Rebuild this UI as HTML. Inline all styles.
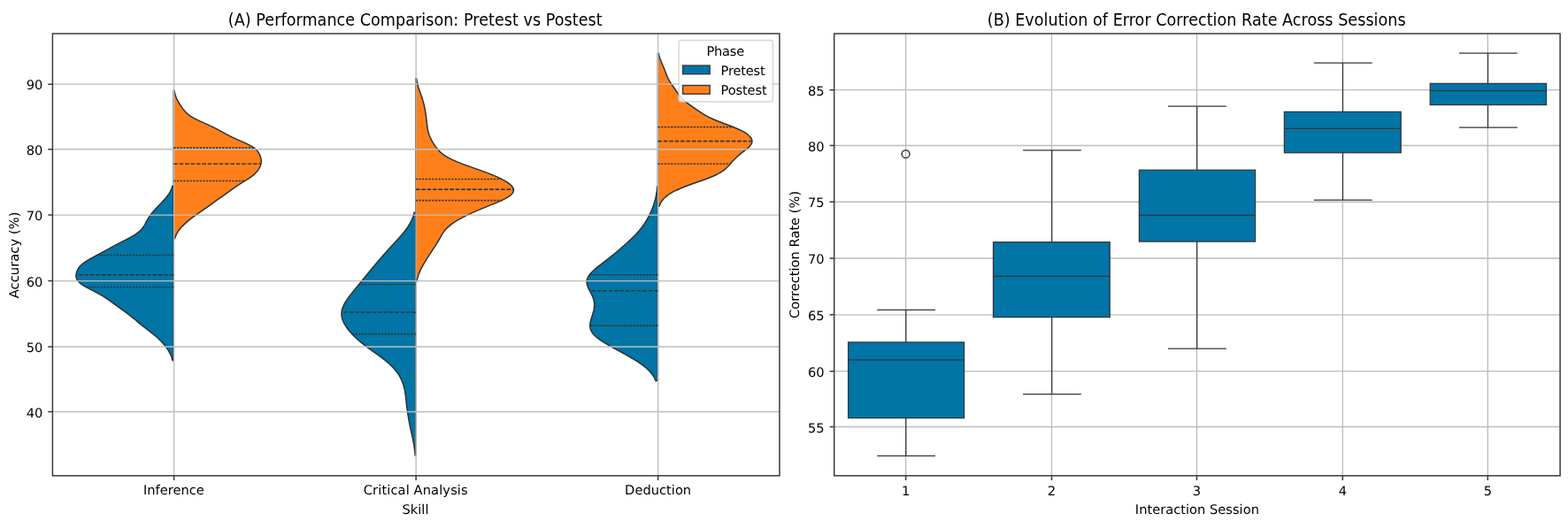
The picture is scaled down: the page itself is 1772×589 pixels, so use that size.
<!DOCTYPE html>
<html lang="en">
<head>
<meta charset="utf-8">
<title>Performance Comparison and Error Correction Rate</title>
<style>
html,body{margin:0;padding:0;background:#fff;}
body{width:1772px;height:589px;overflow:hidden;font-family:"DejaVu Sans","Liberation Sans",sans-serif;}
svg{display:block;}
svg text{font-family:"DejaVu Sans","Liberation Sans",sans-serif;}
</style>
</head>
<body>
<svg xmlns="http://www.w3.org/2000/svg" width="1772" height="589" viewBox="0 0 1772 589" font-family='DejaVu Sans, Liberation Sans, sans-serif'>
<rect width="1772" height="589" fill="#fff"/>
<g id="left">
<clipPath id="clipL"><rect x="59.4" y="38" width="821.55" height="499.8"/></clipPath>
<g clip-path="url(#clipL)">
<path d="M196.3 210.3 L194.75 210.3 L194.47 211.3 L194.15 212.3 L193.79 213.3 L193.39 214.3 L192.94 215.3 L192.45 216.3 L191.92 217.3 L191.34 218.3 L190.71 219.3 L190.04 220.3 L189.33 221.3 L188.58 222.3 L187.79 223.3 L186.97 224.3 L186.11 225.3 L185.23 226.3 L184.33 227.3 L183.4 228.3 L182.46 229.3 L181.51 230.3 L180.55 231.3 L179.59 232.3 L178.63 233.3 L177.67 234.3 L176.73 235.3 L175.79 236.3 L174.87 237.3 L173.97 238.3 L173.09 239.3 L172.24 240.3 L171.42 241.3 L170.63 242.3 L169.87 243.3 L169.15 244.3 L168.47 245.3 L167.82 246.3 L167.21 247.3 L166.63 248.3 L166.07 249.3 L165.54 250.3 L165.02 251.3 L164.5 252.3 L163.97 253.3 L163.41 254.3 L162.82 255.3 L162.18 256.3 L161.48 257.3 L160.69 258.3 L159.82 259.3 L158.84 260.3 L157.76 261.3 L156.57 262.3 L155.27 263.3 L153.85 264.3 L152.33 265.3 L150.71 266.3 L149 267.3 L147.21 268.3 L145.37 269.3 L143.48 270.3 L141.56 271.3 L139.62 272.3 L137.68 273.3 L135.74 274.3 L133.82 275.3 L131.91 276.3 L130.03 277.3 L128.16 278.3 L126.32 279.3 L124.48 280.3 L122.65 281.3 L120.83 282.3 L118.99 283.3 L117.15 284.3 L115.3 285.3 L113.43 286.3 L111.55 287.3 L109.67 288.3 L107.8 289.3 L105.94 290.3 L104.1 291.3 L102.31 292.3 L100.58 293.3 L98.93 294.3 L97.35 295.3 L95.88 296.3 L94.52 297.3 L93.26 298.3 L92.13 299.3 L91.1 300.3 L90.19 301.3 L89.39 302.3 L88.69 303.3 L88.07 304.3 L87.55 305.3 L87.1 306.3 L86.72 307.3 L86.41 308.3 L86.18 309.3 L86.02 310.3 L85.94 311.3 L85.96 312.3 L86.08 313.3 L86.31 314.3 L86.68 315.3 L87.19 316.3 L87.86 317.3 L88.68 318.3 L89.67 319.3 L90.82 320.3 L92.13 321.3 L93.59 322.3 L95.19 323.3 L96.9 324.3 L98.71 325.3 L100.58 326.3 L102.51 327.3 L104.45 328.3 L106.4 329.3 L108.32 330.3 L110.21 331.3 L112.04 332.3 L113.82 333.3 L115.53 334.3 L117.17 335.3 L118.75 336.3 L120.27 337.3 L121.74 338.3 L123.17 339.3 L124.57 340.3 L125.96 341.3 L127.33 342.3 L128.71 343.3 L130.08 344.3 L131.47 345.3 L132.86 346.3 L134.26 347.3 L135.66 348.3 L137.07 349.3 L138.47 350.3 L139.85 351.3 L141.22 352.3 L142.57 353.3 L143.9 354.3 L145.2 355.3 L146.48 356.3 L147.73 357.3 L148.96 358.3 L150.17 359.3 L151.37 360.3 L152.56 361.3 L153.75 362.3 L154.95 363.3 L156.16 364.3 L157.38 365.3 L158.61 366.3 L159.86 367.3 L161.13 368.3 L162.41 369.3 L163.7 370.3 L164.99 371.3 L166.29 372.3 L167.59 373.3 L168.88 374.3 L170.15 375.3 L171.4 376.3 L172.64 377.3 L173.84 378.3 L175.02 379.3 L176.16 380.3 L177.28 381.3 L178.36 382.3 L179.41 383.3 L180.43 384.3 L181.41 385.3 L182.37 386.3 L183.3 387.3 L184.2 388.3 L185.07 389.3 L185.91 390.3 L186.72 391.3 L187.5 392.3 L188.25 393.3 L188.97 394.3 L189.65 395.3 L190.3 396.3 L190.91 397.3 L191.48 398.3 L192.02 399.3 L192.52 400.3 L192.97 401.3 L193.39 402.3 L193.78 403.3 L194.12 404.3 L194.43 405.3 L194.7 406.3 L194.95 407.3 L194.97 407.4 L196.3 407.4 Z" fill="#0075a6" stroke="#303030" stroke-width="1.5" stroke-linejoin="round"/>
<path d="M196.3 102.1 L196.95 102.1 L197.11 103.1 L197.3 104.1 L197.51 105.1 L197.77 106.1 L198.05 107.1 L198.38 108.1 L198.74 109.1 L199.14 110.1 L199.57 111.1 L200.04 112.1 L200.55 113.1 L201.08 114.1 L201.63 115.1 L202.21 116.1 L202.81 117.1 L203.42 118.1 L204.05 119.1 L204.69 120.1 L205.36 121.1 L206.05 122.1 L206.77 123.1 L207.53 124.1 L208.35 125.1 L209.23 126.1 L210.2 127.1 L211.26 128.1 L212.43 129.1 L213.72 130.1 L215.15 131.1 L216.71 132.1 L218.4 133.1 L220.23 134.1 L222.18 135.1 L224.23 136.1 L226.37 137.1 L228.57 138.1 L230.8 139.1 L233.05 140.1 L235.28 141.1 L237.47 142.1 L239.61 143.1 L241.68 144.1 L243.67 145.1 L245.59 146.1 L247.45 147.1 L249.27 148.1 L251.05 149.1 L252.83 150.1 L254.64 151.1 L256.48 152.1 L258.38 153.1 L260.36 154.1 L262.43 155.1 L264.57 156.1 L266.78 157.1 L269.04 158.1 L271.33 159.1 L273.62 160.1 L275.86 161.1 L278.04 162.1 L280.12 163.1 L282.07 164.1 L283.87 165.1 L285.5 166.1 L286.96 167.1 L288.25 168.1 L289.37 169.1 L290.34 170.1 L291.18 171.1 L291.9 172.1 L292.52 173.1 L293.06 174.1 L293.53 175.1 L293.94 176.1 L294.3 177.1 L294.6 178.1 L294.85 179.1 L295.04 180.1 L295.16 181.1 L295.22 182.1 L295.2 183.1 L295.11 184.1 L294.94 185.1 L294.7 186.1 L294.38 187.1 L293.99 188.1 L293.53 189.1 L293.01 190.1 L292.42 191.1 L291.76 192.1 L291.03 193.1 L290.23 194.1 L289.34 195.1 L288.36 196.1 L287.29 197.1 L286.12 198.1 L284.86 199.1 L283.5 200.1 L282.06 201.1 L280.56 202.1 L278.99 203.1 L277.39 204.1 L275.76 205.1 L274.14 206.1 L272.52 207.1 L270.94 208.1 L269.38 209.1 L267.87 210.1 L266.4 211.1 L264.96 212.1 L263.55 213.1 L262.17 214.1 L260.79 215.1 L259.42 216.1 L258.04 217.1 L256.66 218.1 L255.26 219.1 L253.85 220.1 L252.42 221.1 L250.99 222.1 L249.55 223.1 L248.12 224.1 L246.69 225.1 L245.28 226.1 L243.87 227.1 L242.48 228.1 L241.11 229.1 L239.74 230.1 L238.37 231.1 L237 232.1 L235.62 233.1 L234.23 234.1 L232.82 235.1 L231.4 236.1 L229.96 237.1 L228.51 238.1 L227.05 239.1 L225.59 240.1 L224.12 241.1 L222.67 242.1 L221.24 243.1 L219.83 244.1 L218.45 245.1 L217.11 246.1 L215.8 247.1 L214.52 248.1 L213.29 249.1 L212.1 250.1 L210.95 251.1 L209.83 252.1 L208.76 253.1 L207.72 254.1 L206.72 255.1 L205.76 256.1 L204.85 257.1 L203.97 258.1 L203.15 259.1 L202.37 260.1 L201.64 261.1 L200.97 262.1 L200.35 263.1 L199.79 264.1 L199.28 265.1 L198.82 266.1 L198.41 267.1 L198.06 268.1 L197.75 269.1 L197.59 269.7 L196.3 269.7 Z" fill="#ff801a" stroke="#303030" stroke-width="1.5" stroke-linejoin="round"/>
<path d="M469.85 240.2 L467.99 240.2 L467.76 241.2 L467.5 242.2 L467.22 243.2 L466.92 244.2 L466.59 245.2 L466.23 246.2 L465.85 247.2 L465.43 248.2 L464.99 249.2 L464.52 250.2 L464.02 251.2 L463.49 252.2 L462.94 253.2 L462.35 254.2 L461.73 255.2 L461.09 256.2 L460.42 257.2 L459.72 258.2 L459 259.2 L458.25 260.2 L457.48 261.2 L456.69 262.2 L455.88 263.2 L455.05 264.2 L454.21 265.2 L453.35 266.2 L452.48 267.2 L451.59 268.2 L450.7 269.2 L449.8 270.2 L448.89 271.2 L447.97 272.2 L447.06 273.2 L446.14 274.2 L445.22 275.2 L444.3 276.2 L443.37 277.2 L442.45 278.2 L441.54 279.2 L440.62 280.2 L439.71 281.2 L438.8 282.2 L437.9 283.2 L437 284.2 L436.1 285.2 L435.21 286.2 L434.32 287.2 L433.44 288.2 L432.56 289.2 L431.68 290.2 L430.81 291.2 L429.95 292.2 L429.08 293.2 L428.22 294.2 L427.37 295.2 L426.51 296.2 L425.66 297.2 L424.82 298.2 L423.97 299.2 L423.13 300.2 L422.29 301.2 L421.46 302.2 L420.63 303.2 L419.8 304.2 L418.97 305.2 L418.14 306.2 L417.32 307.2 L416.5 308.2 L415.68 309.2 L414.86 310.2 L414.04 311.2 L413.23 312.2 L412.41 313.2 L411.6 314.2 L410.79 315.2 L409.97 316.2 L409.16 317.2 L408.35 318.2 L407.54 319.2 L406.72 320.2 L405.91 321.2 L405.09 322.2 L404.28 323.2 L403.46 324.2 L402.65 325.2 L401.83 326.2 L401.02 327.2 L400.21 328.2 L399.4 329.2 L398.59 330.2 L397.8 331.2 L397.01 332.2 L396.23 333.2 L395.46 334.2 L394.7 335.2 L393.96 336.2 L393.23 337.2 L392.53 338.2 L391.85 339.2 L391.19 340.2 L390.57 341.2 L389.97 342.2 L389.4 343.2 L388.87 344.2 L388.38 345.2 L387.93 346.2 L387.52 347.2 L387.15 348.2 L386.83 349.2 L386.56 350.2 L386.34 351.2 L386.17 352.2 L386.05 353.2 L385.98 354.2 L385.97 355.2 L386.01 356.2 L386.11 357.2 L386.26 358.2 L386.46 359.2 L386.72 360.2 L387.02 361.2 L387.38 362.2 L387.78 363.2 L388.23 364.2 L388.73 365.2 L389.27 366.2 L389.85 367.2 L390.47 368.2 L391.12 369.2 L391.81 370.2 L392.54 371.2 L393.3 372.2 L394.08 373.2 L394.9 374.2 L395.75 375.2 L396.62 376.2 L397.52 377.2 L398.45 378.2 L399.41 379.2 L400.4 380.2 L401.41 381.2 L402.45 382.2 L403.52 383.2 L404.62 384.2 L405.75 385.2 L406.91 386.2 L408.09 387.2 L409.31 388.2 L410.55 389.2 L411.83 390.2 L413.12 391.2 L414.45 392.2 L415.79 393.2 L417.15 394.2 L418.53 395.2 L419.92 396.2 L421.33 397.2 L422.73 398.2 L424.14 399.2 L425.55 400.2 L426.95 401.2 L428.33 402.2 L429.71 403.2 L431.06 404.2 L432.39 405.2 L433.7 406.2 L434.97 407.2 L436.22 408.2 L437.43 409.2 L438.6 410.2 L439.73 411.2 L440.83 412.2 L441.88 413.2 L442.9 414.2 L443.87 415.2 L444.8 416.2 L445.7 417.2 L446.55 418.2 L447.36 419.2 L448.14 420.2 L448.88 421.2 L449.58 422.2 L450.24 423.2 L450.88 424.2 L451.48 425.2 L452.05 426.2 L452.58 427.2 L453.09 428.2 L453.57 429.2 L454.02 430.2 L454.44 431.2 L454.84 432.2 L455.21 433.2 L455.56 434.2 L455.88 435.2 L456.18 436.2 L456.46 437.2 L456.71 438.2 L456.95 439.2 L457.17 440.2 L457.37 441.2 L457.56 442.2 L457.73 443.2 L457.89 444.2 L458.04 445.2 L458.17 446.2 L458.3 447.2 L458.42 448.2 L458.54 449.2 L458.65 450.2 L458.76 451.2 L458.87 452.2 L458.98 453.2 L459.08 454.2 L459.19 455.2 L459.3 456.2 L459.41 457.2 L459.53 458.2 L459.65 459.2 L459.77 460.2 L459.9 461.2 L460.03 462.2 L460.17 463.2 L460.31 464.2 L460.45 465.2 L460.59 466.2 L460.75 467.2 L460.9 468.2 L461.06 469.2 L461.22 470.2 L461.38 471.2 L461.55 472.2 L461.73 473.2 L461.9 474.2 L462.08 475.2 L462.26 476.2 L462.45 477.2 L462.64 478.2 L462.83 479.2 L463.03 480.2 L463.23 481.2 L463.43 482.2 L463.64 483.2 L463.85 484.2 L464.06 485.2 L464.27 486.2 L464.49 487.2 L464.71 488.2 L464.93 489.2 L465.15 490.2 L465.37 491.2 L465.59 492.2 L465.81 493.2 L466.02 494.2 L466.24 495.2 L466.45 496.2 L466.66 497.2 L466.86 498.2 L467.05 499.2 L467.25 500.2 L467.43 501.2 L467.61 502.2 L467.78 503.2 L467.94 504.2 L468.1 505.2 L468.25 506.2 L468.39 507.2 L468.52 508.2 L468.64 509.2 L468.76 510.2 L468.87 511.2 L468.97 512.2 L469.06 513.2 L469.14 514.2 L469.21 515 L469.85 515 Z" fill="#0075a6" stroke="#303030" stroke-width="1.5" stroke-linejoin="round"/>
<path d="M469.85 88.85 L470.76 88.85 L470.9 89.85 L471.06 90.85 L471.23 91.85 L471.43 92.85 L471.63 93.85 L471.86 94.85 L472.1 95.85 L472.37 96.85 L472.64 97.85 L472.93 98.85 L473.24 99.85 L473.56 100.85 L473.89 101.85 L474.23 102.85 L474.58 103.85 L474.93 104.85 L475.28 105.85 L475.64 106.85 L475.99 107.85 L476.34 108.85 L476.68 109.85 L477.02 110.85 L477.34 111.85 L477.65 112.85 L477.96 113.85 L478.25 114.85 L478.52 115.85 L478.79 116.85 L479.04 117.85 L479.28 118.85 L479.5 119.85 L479.72 120.85 L479.92 121.85 L480.12 122.85 L480.3 123.85 L480.48 124.85 L480.65 125.85 L480.82 126.85 L480.98 127.85 L481.13 128.85 L481.27 129.85 L481.41 130.85 L481.55 131.85 L481.68 132.85 L481.8 133.85 L481.92 134.85 L482.03 135.85 L482.14 136.85 L482.25 137.85 L482.36 138.85 L482.47 139.85 L482.58 140.85 L482.7 141.85 L482.83 142.85 L482.96 143.85 L483.12 144.85 L483.29 145.85 L483.48 146.85 L483.7 147.85 L483.94 148.85 L484.21 149.85 L484.51 150.85 L484.84 151.85 L485.2 152.85 L485.59 153.85 L486.01 154.85 L486.46 155.85 L486.94 156.85 L487.44 157.85 L487.97 158.85 L488.52 159.85 L489.09 160.85 L489.69 161.85 L490.31 162.85 L490.95 163.85 L491.62 164.85 L492.33 165.85 L493.07 166.85 L493.85 167.85 L494.68 168.85 L495.58 169.85 L496.54 170.85 L497.58 171.85 L498.72 172.85 L499.95 173.85 L501.28 174.85 L502.74 175.85 L504.31 176.85 L506.02 177.85 L507.85 178.85 L509.82 179.85 L511.92 180.85 L514.15 181.85 L516.49 182.85 L518.95 183.85 L521.51 184.85 L524.15 185.85 L526.87 186.85 L529.64 187.85 L532.46 188.85 L535.29 189.85 L538.13 190.85 L540.96 191.85 L543.75 192.85 L546.51 193.85 L549.21 194.85 L551.84 195.85 L554.4 196.85 L556.87 197.85 L559.24 198.85 L561.52 199.85 L563.7 200.85 L565.77 201.85 L567.72 202.85 L569.57 203.85 L571.29 204.85 L572.89 205.85 L574.36 206.85 L575.69 207.85 L576.88 208.85 L577.91 209.85 L578.79 210.85 L579.49 211.85 L580 212.85 L580.33 213.85 L580.46 214.85 L580.39 215.85 L580.1 216.85 L579.6 217.85 L578.88 218.85 L577.95 219.85 L576.82 220.85 L575.49 221.85 L573.97 222.85 L572.27 223.85 L570.41 224.85 L568.42 225.85 L566.29 226.85 L564.07 227.85 L561.75 228.85 L559.37 229.85 L556.94 230.85 L554.48 231.85 L552 232.85 L549.53 233.85 L547.06 234.85 L544.61 235.85 L542.2 236.85 L539.82 237.85 L537.49 238.85 L535.21 239.85 L532.97 240.85 L530.79 241.85 L528.67 242.85 L526.61 243.85 L524.6 244.85 L522.66 245.85 L520.79 246.85 L518.98 247.85 L517.25 248.85 L515.58 249.85 L514 250.85 L512.49 251.85 L511.06 252.85 L509.71 253.85 L508.45 254.85 L507.26 255.85 L506.16 256.85 L505.13 257.85 L504.18 258.85 L503.3 259.85 L502.48 260.85 L501.72 261.85 L501 262.85 L500.33 263.85 L499.7 264.85 L499.09 265.85 L498.51 266.85 L497.93 267.85 L497.37 268.85 L496.8 269.85 L496.23 270.85 L495.66 271.85 L495.07 272.85 L494.48 273.85 L493.87 274.85 L493.25 275.85 L492.62 276.85 L491.98 277.85 L491.33 278.85 L490.67 279.85 L490.01 280.85 L489.34 281.85 L488.67 282.85 L488.01 283.85 L487.34 284.85 L486.68 285.85 L486.02 286.85 L485.37 287.85 L484.72 288.85 L484.08 289.85 L483.44 290.85 L482.81 291.85 L482.18 292.85 L481.56 293.85 L480.95 294.85 L480.34 295.85 L479.75 296.85 L479.16 297.85 L478.57 298.85 L478 299.85 L477.45 300.85 L476.9 301.85 L476.38 302.85 L475.86 303.85 L475.37 304.85 L474.9 305.85 L474.45 306.85 L474.02 307.85 L473.61 308.85 L473.23 309.85 L472.87 310.85 L472.54 311.85 L472.24 312.85 L471.95 313.85 L471.7 314.85 L471.46 315.85 L471.25 316.85 L471.06 317.85 L471.02 318.1 L469.85 318.1 Z" fill="#ff801a" stroke="#303030" stroke-width="1.5" stroke-linejoin="round"/>
<path d="M743.45 210.7 L742.88 210.7 L742.79 211.7 L742.7 212.7 L742.6 213.7 L742.48 214.7 L742.36 215.7 L742.22 216.7 L742.07 217.7 L741.91 218.7 L741.74 219.7 L741.55 220.7 L741.35 221.7 L741.14 222.7 L740.91 223.7 L740.67 224.7 L740.42 225.7 L740.15 226.7 L739.87 227.7 L739.58 228.7 L739.27 229.7 L738.95 230.7 L738.62 231.7 L738.27 232.7 L737.91 233.7 L737.54 234.7 L737.16 235.7 L736.76 236.7 L736.35 237.7 L735.93 238.7 L735.5 239.7 L735.05 240.7 L734.58 241.7 L734.11 242.7 L733.61 243.7 L733.1 244.7 L732.58 245.7 L732.04 246.7 L731.48 247.7 L730.9 248.7 L730.31 249.7 L729.7 250.7 L729.06 251.7 L728.41 252.7 L727.73 253.7 L727.03 254.7 L726.31 255.7 L725.57 256.7 L724.8 257.7 L724.01 258.7 L723.19 259.7 L722.35 260.7 L721.49 261.7 L720.59 262.7 L719.68 263.7 L718.74 264.7 L717.78 265.7 L716.79 266.7 L715.79 267.7 L714.76 268.7 L713.72 269.7 L712.66 270.7 L711.59 271.7 L710.5 272.7 L709.41 273.7 L708.3 274.7 L707.19 275.7 L706.07 276.7 L704.95 277.7 L703.82 278.7 L702.69 279.7 L701.55 280.7 L700.41 281.7 L699.26 282.7 L698.11 283.7 L696.95 284.7 L695.79 285.7 L694.61 286.7 L693.42 287.7 L692.21 288.7 L691 289.7 L689.76 290.7 L688.51 291.7 L687.25 292.7 L685.97 293.7 L684.68 294.7 L683.37 295.7 L682.06 296.7 L680.75 297.7 L679.44 298.7 L678.13 299.7 L676.84 300.7 L675.56 301.7 L674.31 302.7 L673.1 303.7 L671.92 304.7 L670.8 305.7 L669.73 306.7 L668.72 307.7 L667.78 308.7 L666.91 309.7 L666.13 310.7 L665.43 311.7 L664.83 312.7 L664.31 313.7 L663.89 314.7 L663.56 315.7 L663.32 316.7 L663.18 317.7 L663.13 318.7 L663.17 319.7 L663.29 320.7 L663.48 321.7 L663.75 322.7 L664.08 323.7 L664.46 324.7 L664.89 325.7 L665.36 326.7 L665.86 327.7 L666.38 328.7 L666.91 329.7 L667.44 330.7 L667.97 331.7 L668.48 332.7 L668.97 333.7 L669.43 334.7 L669.86 335.7 L670.24 336.7 L670.59 337.7 L670.89 338.7 L671.14 339.7 L671.35 340.7 L671.5 341.7 L671.61 342.7 L671.67 343.7 L671.68 344.7 L671.65 345.7 L671.58 346.7 L671.48 347.7 L671.33 348.7 L671.16 349.7 L670.96 350.7 L670.73 351.7 L670.47 352.7 L670.2 353.7 L669.92 354.7 L669.62 355.7 L669.31 356.7 L668.99 357.7 L668.68 358.7 L668.37 359.7 L668.07 360.7 L667.78 361.7 L667.52 362.7 L667.28 363.7 L667.08 364.7 L666.92 365.7 L666.81 366.7 L666.76 367.7 L666.76 368.7 L666.84 369.7 L666.99 370.7 L667.23 371.7 L667.55 372.7 L667.96 373.7 L668.47 374.7 L669.07 375.7 L669.77 376.7 L670.57 377.7 L671.46 378.7 L672.46 379.7 L673.54 380.7 L674.71 381.7 L675.97 382.7 L677.31 383.7 L678.72 384.7 L680.2 385.7 L681.74 386.7 L683.34 387.7 L684.98 388.7 L686.67 389.7 L688.4 390.7 L690.15 391.7 L691.93 392.7 L693.73 393.7 L695.55 394.7 L697.37 395.7 L699.2 396.7 L701.03 397.7 L702.86 398.7 L704.68 399.7 L706.48 400.7 L708.28 401.7 L710.05 402.7 L711.8 403.7 L713.53 404.7 L715.22 405.7 L716.88 406.7 L718.51 407.7 L720.1 408.7 L721.64 409.7 L723.14 410.7 L724.58 411.7 L725.98 412.7 L727.32 413.7 L728.6 414.7 L729.83 415.7 L730.99 416.7 L732.09 417.7 L733.13 418.7 L734.1 419.7 L735.02 420.7 L735.87 421.7 L736.66 422.7 L737.39 423.7 L738.06 424.7 L738.68 425.7 L739.24 426.7 L739.75 427.7 L740.21 428.7 L740.62 429.7 L740.89 430.4 L743.45 430.4 Z" fill="#0075a6" stroke="#303030" stroke-width="1.5" stroke-linejoin="round"/>
<path d="M743.45 60.2 L744.37 60.2 L744.56 61.2 L744.77 62.2 L745.01 63.2 L745.28 64.2 L745.57 65.2 L745.9 66.2 L746.24 67.2 L746.62 68.2 L747.01 69.2 L747.42 70.2 L747.85 71.2 L748.28 72.2 L748.72 73.2 L749.16 74.2 L749.59 75.2 L750.02 76.2 L750.44 77.2 L750.84 78.2 L751.24 79.2 L751.62 80.2 L751.99 81.2 L752.36 82.2 L752.73 83.2 L753.1 84.2 L753.49 85.2 L753.89 86.2 L754.31 87.2 L754.77 88.2 L755.25 89.2 L755.77 90.2 L756.33 91.2 L756.92 92.2 L757.55 93.2 L758.2 94.2 L758.88 95.2 L759.58 96.2 L760.29 97.2 L761.01 98.2 L761.72 99.2 L762.43 100.2 L763.12 101.2 L763.81 102.2 L764.5 103.2 L765.18 104.2 L765.87 105.2 L766.57 106.2 L767.29 107.2 L768.05 108.2 L768.85 109.2 L769.71 110.2 L770.63 111.2 L771.62 112.2 L772.68 113.2 L773.81 114.2 L775.01 115.2 L776.28 116.2 L777.59 117.2 L778.95 118.2 L780.34 119.2 L781.75 120.2 L783.18 121.2 L784.61 122.2 L786.06 123.2 L787.5 124.2 L788.97 125.2 L790.45 126.2 L791.97 127.2 L793.53 128.2 L795.17 129.2 L796.88 130.2 L798.7 131.2 L800.62 132.2 L802.67 133.2 L804.83 134.2 L807.12 135.2 L809.52 136.2 L812.01 137.2 L814.59 138.2 L817.21 139.2 L819.87 140.2 L822.52 141.2 L825.14 142.2 L827.7 143.2 L830.17 144.2 L832.54 145.2 L834.79 146.2 L836.89 147.2 L838.85 148.2 L840.66 149.2 L842.3 150.2 L843.79 151.2 L845.12 152.2 L846.3 153.2 L847.31 154.2 L848.16 155.2 L848.85 156.2 L849.37 157.2 L849.72 158.2 L849.89 159.2 L849.89 160.2 L849.71 161.2 L849.35 162.2 L848.83 163.2 L848.15 164.2 L847.32 165.2 L846.37 166.2 L845.3 167.2 L844.15 168.2 L842.93 169.2 L841.66 170.2 L840.37 171.2 L839.08 172.2 L837.8 173.2 L836.54 174.2 L835.32 175.2 L834.14 176.2 L833.01 177.2 L831.92 178.2 L830.88 179.2 L829.89 180.2 L828.93 181.2 L828.01 182.2 L827.12 183.2 L826.24 184.2 L825.37 185.2 L824.49 186.2 L823.59 187.2 L822.67 188.2 L821.69 189.2 L820.65 190.2 L819.53 191.2 L818.3 192.2 L816.96 193.2 L815.48 194.2 L813.86 195.2 L812.08 196.2 L810.14 197.2 L808.04 198.2 L805.79 199.2 L803.39 200.2 L800.86 201.2 L798.22 202.2 L795.49 203.2 L792.69 204.2 L789.85 205.2 L786.99 206.2 L784.15 207.2 L781.33 208.2 L778.58 209.2 L775.89 210.2 L773.3 211.2 L770.81 212.2 L768.44 213.2 L766.18 214.2 L764.06 215.2 L762.06 216.2 L760.19 217.2 L758.45 218.2 L756.83 219.2 L755.34 220.2 L753.97 221.2 L752.71 222.2 L751.56 223.2 L750.52 224.2 L749.58 225.2 L748.73 226.2 L747.97 227.2 L747.3 228.2 L746.71 229.2 L746.19 230.2 L745.73 231.2 L745.34 232.2 L745.04 233.1 L743.45 233.1 Z" fill="#ff801a" stroke="#303030" stroke-width="1.5" stroke-linejoin="round"/>
<path d="M196.63 38 V537.8 M470.12 38 V537.8 M743.64 38 V537.8 M59.4 465.46 H880.95 M59.4 391.95 H880.95 M59.4 317.59 H880.95 M59.4 243.08 H880.95 M59.4 168.78 H880.95 M59.4 95.19 H880.95" stroke="#bdbdbd" stroke-width="1.35" fill="none"/>
<path d="M196.3 288.4 H109.48" stroke="#363636" stroke-width="1.55" stroke-dasharray="2.29 1.38" fill="none"/>
<path d="M196.3 310.7 H85.99" stroke="#363636" stroke-width="1.55" stroke-dasharray="4.58 1.83" fill="none"/>
<path d="M196.3 324.4 H97.08" stroke="#363636" stroke-width="1.55" stroke-dasharray="2.29 1.38" fill="none"/>
<path d="M196.3 167.1 H286.96" stroke="#363636" stroke-width="1.55" stroke-dasharray="2.29 1.38" fill="none"/>
<path d="M196.3 185.3 H294.89" stroke="#363636" stroke-width="1.55" stroke-dasharray="4.58 1.83" fill="none"/>
<path d="M196.3 204.4 H276.9" stroke="#363636" stroke-width="1.55" stroke-dasharray="2.29 1.38" fill="none"/>
<path d="M469.85 321.4 H405.75" stroke="#363636" stroke-width="1.55" stroke-dasharray="2.29 1.38" fill="none"/>
<path d="M469.85 353 H386.07" stroke="#363636" stroke-width="1.55" stroke-dasharray="4.58 1.83" fill="none"/>
<path d="M469.85 377.6 H397.89" stroke="#363636" stroke-width="1.55" stroke-dasharray="2.29 1.38" fill="none"/>
<path d="M469.85 202.4 H566.84" stroke="#363636" stroke-width="1.55" stroke-dasharray="2.29 1.38" fill="none"/>
<path d="M469.85 214.1 H580.36" stroke="#363636" stroke-width="1.55" stroke-dasharray="4.58 1.83" fill="none"/>
<path d="M469.85 226.6 H566.82" stroke="#363636" stroke-width="1.55" stroke-dasharray="2.29 1.38" fill="none"/>
<path d="M743.45 310.8 H666.06" stroke="#363636" stroke-width="1.55" stroke-dasharray="2.29 1.38" fill="none"/>
<path d="M743.45 328.7 H666.38" stroke="#363636" stroke-width="1.55" stroke-dasharray="4.58 1.83" fill="none"/>
<path d="M743.45 368.1 H666.76" stroke="#363636" stroke-width="1.55" stroke-dasharray="2.29 1.38" fill="none"/>
<path d="M743.45 143.6 H828.69" stroke="#363636" stroke-width="1.55" stroke-dasharray="2.29 1.38" fill="none"/>
<path d="M743.45 159.6 H849.89" stroke="#363636" stroke-width="1.55" stroke-dasharray="4.58 1.83" fill="none"/>
<path d="M743.45 185.3 H825.28" stroke="#363636" stroke-width="1.55" stroke-dasharray="2.29 1.38" fill="none"/>
</g>
<path d="M196.63 537.8 v5.13 M470.12 537.8 v5.13 M743.64 537.8 v5.13 M59.4 465.46 h-5.13 M59.4 391.95 h-5.13 M59.4 317.59 h-5.13 M59.4 243.08 h-5.13 M59.4 168.78 h-5.13 M59.4 95.19 h-5.13" stroke="#3a3a3a" stroke-width="1.5" fill="none"/>
<rect x="59.4" y="38" width="821.55" height="499.8" fill="none" stroke="#3a3a3a" stroke-width="1.5"/>
<text transform="matrix(1 0 0.0005 0.99 48.33 471.66)" font-size="14.67" text-anchor="end" fill="#000000">40</text>
<text transform="matrix(1 0 0.0005 0.99 48.33 398.15)" font-size="14.67" text-anchor="end" fill="#000000">50</text>
<text transform="matrix(1 0 0.0005 0.99 48.33 323.79)" font-size="14.67" text-anchor="end" fill="#000000">60</text>
<text transform="matrix(1 0 0.0005 0.99 48.33 249.28)" font-size="14.67" text-anchor="end" fill="#000000">70</text>
<text transform="matrix(1 0 0.0005 0.99 48.33 174.98)" font-size="14.67" text-anchor="end" fill="#000000">80</text>
<text transform="matrix(1 0 0.0005 0.99 48.33 101.39)" font-size="14.67" text-anchor="end" fill="#000000">90</text>
<text transform="matrix(1 0 0.0005 1 196.33 559.3)" font-size="14.67" text-anchor="middle" fill="#000000">Inference</text>
<text transform="matrix(1 0 0.0005 1 469.72 559.3)" font-size="14.67" text-anchor="middle" fill="#000000" textLength="117.91" lengthAdjust="spacing">Critical Analysis</text>
<text transform="matrix(1 0 0.0005 1 743.64 559.3)" font-size="14.67" text-anchor="middle" fill="#000000">Deduction</text>
<text transform="matrix(1 0 0.0005 1 469.48 580.8)" font-size="14.67" text-anchor="middle" fill="#000000">Skill</text>
<text transform="translate(20.6 288.4) rotate(-90) matrix(1 0 0.0005 1 0 0)" font-size="14.67" text-anchor="middle" fill="#000000" textLength="97.94" lengthAdjust="spacing">Accuracy (%)</text>
<text transform="matrix(1 0 0.0005 1.08 469.28 28.9)" font-size="17.6" text-anchor="middle" fill="#000000" textLength="422.9" lengthAdjust="spacing">(A) Performance Comparison: Pretest vs Postest</text>
<rect x="767.1" y="45.4" width="106.4" height="69.5" rx="2.9" ry="2.9" fill="#fff" fill-opacity="0.8" stroke="#cccccc" stroke-opacity="0.8" stroke-width="1.47"/>
<text transform="matrix(1 0 0.0005 1 819.85 62.8)" font-size="14.67" text-anchor="middle" fill="#000000" textLength="42.87" lengthAdjust="spacing">Phase</text>
<rect x="771.6" y="74.05" width="30.6" height="9.7" fill="#0075a6" stroke="#363636" stroke-width="1.35"/>
<text transform="matrix(1 0 0.0005 1 814.6 84.5)" font-size="14.67" text-anchor="start" fill="#000000" textLength="50.15" lengthAdjust="spacing">Pretest</text>
<rect x="771.6" y="96.55" width="30.6" height="9.7" fill="#ff801a" stroke="#363636" stroke-width="1.35"/>
<text transform="matrix(1 0 0.0005 1 814.6 107)" font-size="14.67" text-anchor="start" fill="#000000" textLength="52.08" lengthAdjust="spacing">Postest</text>
</g>
<g id="right">
<path d="M1023.59 38 V537.8 M1188.47 38 V537.8 M1352.47 38 V537.8 M1517.32 38 V537.8 M1681.32 38 V537.8 M942.7 482.53 H1763.1 M942.7 419.63 H1763.1 M942.7 355.87 H1763.1 M942.7 292.02 H1763.1 M942.7 228.29 H1763.1 M942.7 164.51 H1763.1 M942.7 101.63 H1763.1" stroke="#bdbdbd" stroke-width="1.35" fill="none"/>
<rect x="958.6" y="386.9" width="131" height="85.7" fill="#0075a6" stroke="#363636" stroke-width="1.25" stroke-linejoin="miter"/>
<path d="M1023.79 386.9 V349.68 M1023.79 472.6 V516.02 M991.19 350.3 H1056.99 M991.19 515.4 H1056.99" stroke="#363636" stroke-width="1.25" fill="none"/>
<path d="M958.6 406.8 H1089.6" stroke="#363636" stroke-width="1.25" fill="none"/>
<circle cx="1023.59" cy="174.2" r="4.4" fill="none" stroke="#363636" stroke-width="1.47"/>
<rect x="1122.5" y="273.7" width="131.7" height="84.9" fill="#0075a6" stroke="#363636" stroke-width="1.25" stroke-linejoin="miter"/>
<path d="M1188.67 273.7 V169.18 M1188.67 358.6 V446.23 M1156.07 169.8 H1221.87 M1156.07 445.6 H1221.87" stroke="#363636" stroke-width="1.25" fill="none"/>
<path d="M1122.5 312.4 H1254.2" stroke="#363636" stroke-width="1.25" fill="none"/>
<rect x="1287.4" y="192.2" width="131.2" height="80.9" fill="#0075a6" stroke="#363636" stroke-width="1.25" stroke-linejoin="miter"/>
<path d="M1352.67 192.2 V119.38 M1352.67 273.1 V394.73 M1320.07 120 H1385.87 M1320.07 394.1 H1385.87" stroke="#363636" stroke-width="1.25" fill="none"/>
<path d="M1287.4 243.3 H1418.6" stroke="#363636" stroke-width="1.25" fill="none"/>
<rect x="1451.4" y="126.4" width="131.8" height="46.3" fill="#0075a6" stroke="#363636" stroke-width="1.25" stroke-linejoin="miter"/>
<path d="M1517.52 126.4 V70.38 M1517.52 172.7 V226.82 M1484.92 71 H1550.72 M1484.92 226.2 H1550.72" stroke="#363636" stroke-width="1.25" fill="none"/>
<path d="M1451.4 145.4 H1583.2" stroke="#363636" stroke-width="1.25" fill="none"/>
<rect x="1616.2" y="94.4" width="131.3" height="24.2" fill="#0075a6" stroke="#363636" stroke-width="1.25" stroke-linejoin="miter"/>
<path d="M1681.52 94.4 V59.58 M1681.52 118.6 V144.82 M1648.92 60.2 H1714.72 M1648.92 144.2 H1714.72" stroke="#363636" stroke-width="1.25" fill="none"/>
<path d="M1616.2 102.5 H1747.5" stroke="#363636" stroke-width="1.25" fill="none"/>
<path d="M1023.59 537.8 v5.13 M1188.47 537.8 v5.13 M1352.47 537.8 v5.13 M1517.32 537.8 v5.13 M1681.32 537.8 v5.13 M942.7 482.53 h-5.13 M942.7 419.63 h-5.13 M942.7 355.87 h-5.13 M942.7 292.02 h-5.13 M942.7 228.29 h-5.13 M942.7 164.51 h-5.13 M942.7 101.63 h-5.13" stroke="#3a3a3a" stroke-width="1.5" fill="none"/>
<rect x="942.7" y="38" width="820.4" height="499.8" fill="none" stroke="#3a3a3a" stroke-width="1.5"/>
<text transform="matrix(1 0 0.0005 0.99 931.63 488.73)" font-size="14.67" text-anchor="end" fill="#000000">55</text>
<text transform="matrix(1 0 0.0005 0.99 931.63 425.83)" font-size="14.67" text-anchor="end" fill="#000000">60</text>
<text transform="matrix(1 0 0.0005 0.99 931.63 362.07)" font-size="14.67" text-anchor="end" fill="#000000">65</text>
<text transform="matrix(1 0 0.0005 0.99 931.63 298.22)" font-size="14.67" text-anchor="end" fill="#000000">70</text>
<text transform="matrix(1 0 0.0005 0.99 931.63 234.49)" font-size="14.67" text-anchor="end" fill="#000000">75</text>
<text transform="matrix(1 0 0.0005 0.99 931.63 170.71)" font-size="14.67" text-anchor="end" fill="#000000">80</text>
<text transform="matrix(1 0 0.0005 0.99 931.63 107.83)" font-size="14.67" text-anchor="end" fill="#000000">85</text>
<text transform="matrix(1 0 0.0005 0.99 1023.59 559.5)" font-size="14.67" text-anchor="middle" fill="#000000">1</text>
<text transform="matrix(1 0 0.0005 0.99 1188.47 559.5)" font-size="14.67" text-anchor="middle" fill="#000000">2</text>
<text transform="matrix(1 0 0.0005 0.99 1352.47 559.5)" font-size="14.67" text-anchor="middle" fill="#000000">3</text>
<text transform="matrix(1 0 0.0005 0.99 1517.32 559.5)" font-size="14.67" text-anchor="middle" fill="#000000">4</text>
<text transform="matrix(1 0 0.0005 0.99 1681.32 559.5)" font-size="14.67" text-anchor="middle" fill="#000000">5</text>
<text transform="matrix(1 0 0.0005 1 1352.9 580.7)" font-size="14.67" text-anchor="middle" fill="#000000">Interaction Session</text>
<text transform="translate(902.9 287.9) rotate(-90) matrix(1 0 0.0005 1 0 0)" font-size="14.67" text-anchor="middle" fill="#000000">Correction Rate (%)</text>
<text transform="matrix(1 0 0.0005 1.08 1352.2 28.9)" font-size="17.6" text-anchor="middle" fill="#000000" textLength="472.87" lengthAdjust="spacing">(B) Evolution of Error Correction Rate Across Sessions</text>
</g>
</svg>
</body>
</html>
